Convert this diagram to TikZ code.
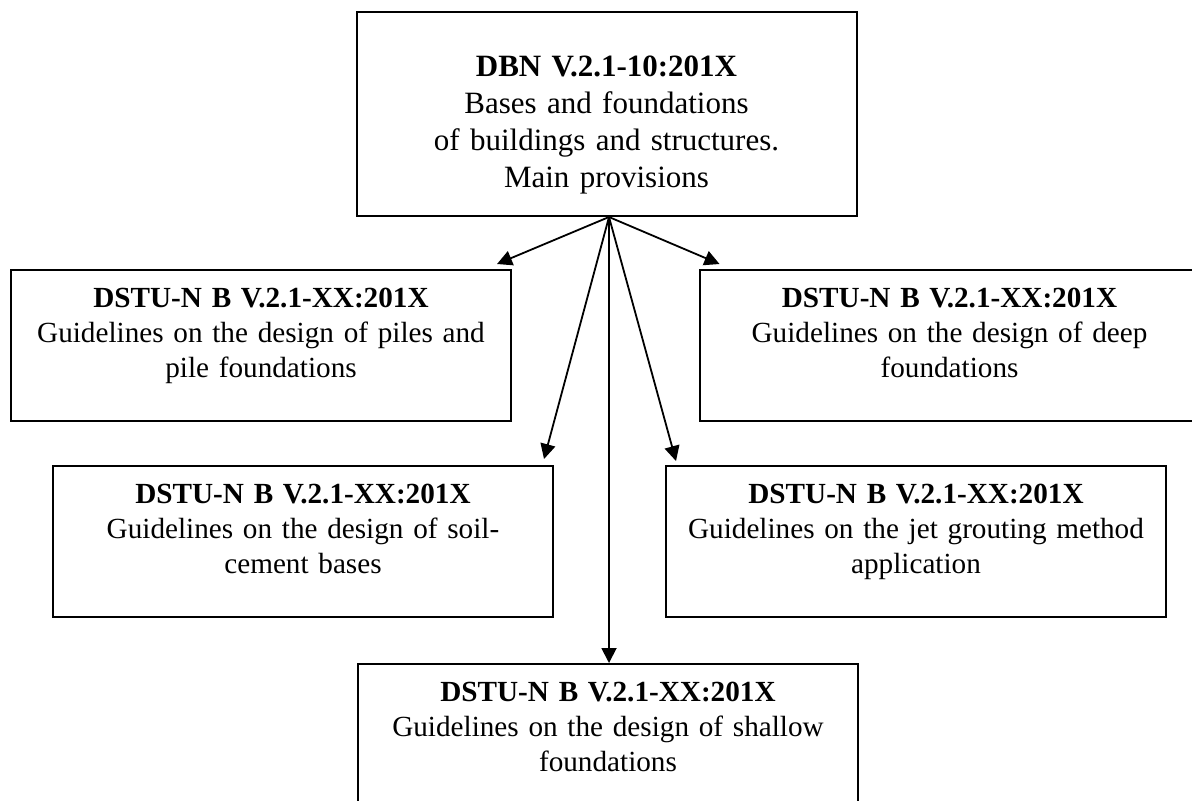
\documentclass[tikz,border=0pt]{standalone}
\usepackage{fontspec}
\setmainfont{Liberation Serif}
\usetikzlibrary{arrows.meta, positioning}

\begin{document}
\begin{tikzpicture}[
    every node/.style={font=\fontsize{14.6pt}{17.5pt}\selectfont},
    box/.style={
        rectangle,
        draw=black,
        line width=1pt,
        align=center,
        inner xsep=4pt,
        inner ysep=0pt,
        text width=242pt,
        text height=18.75pt,
        text depth=56.75pt
    },
    mainbox/.style={
        box,
        text height=32pt,
        text depth=70pt,
        font=\fontsize{15.5pt}{18.5pt}\selectfont
    },
    arrow/.style={
        line width=0.9pt,
        -{Triangle[length=7.5pt, width=7.5pt]}
    }
]

% Page frame (the boxes on the right and at the bottom run off it)
\useasboundingbox (0,0) rectangle (596pt,-400pt);
\clip (0,0) rectangle (596pt,-400pt);

% Main standard
\node[mainbox, anchor=north] (dbn) at (303.25pt,-5.5pt) {
    \textbf{DBN V.2.1-10:201X} \\
    Bases and foundations \\
    of buildings and structures. \\
    Main provisions
};

% Guideline nodes
\node[box, below=25.75pt of dbn, xshift=-172.75pt] (piles) {
    \textbf{DSTU-N B V.2.1-XX:201X} \\
    Guidelines on the design of piles and \\
    pile foundations
};
\node[box, below=25.75pt of dbn, xshift=171.5pt] (deep) {
    \textbf{DSTU-N B V.2.1-XX:201X} \\
    Guidelines on the design of deep \\
    foundations
};
\node[box, below=21.75pt of piles, xshift=21pt] (soilcement) {
    \textbf{DSTU-N B V.2.1-XX:201X} \\
    Guidelines on the design of soil- \\
    cement bases
};
\node[box, below=21.75pt of deep, xshift=-16.75pt] (jetgrout) {
    \textbf{DSTU-N B V.2.1-XX:201X} \\
    Guidelines on the jet grouting method \\
    application
};
\node[box, below=22.5pt of soilcement, xshift=152.5pt] (shallow) {
    \textbf{DSTU-N B V.2.1-XX:201X} \\
    Guidelines on the design of shallow \\
    foundations
};

% Arrows fan out from one point under the main box
\coordinate (hub) at ([xshift=1.25pt]dbn.south);
\draw[arrow] (hub) -- ([xshift=-7.5pt, yshift=2.25pt]piles.north east);
\draw[arrow] (hub) -- ([xshift=10.5pt, yshift=2.25pt]deep.north west);
\draw[arrow] (hub) -- ([xshift=-5pt, yshift=3pt]soilcement.north east);
\draw[arrow] (hub) -- ([xshift=5.5pt, yshift=2pt]jetgrout.north west);
\draw[arrow] (hub) -- (hub |- shallow.north);

\end{tikzpicture}
\end{document}
